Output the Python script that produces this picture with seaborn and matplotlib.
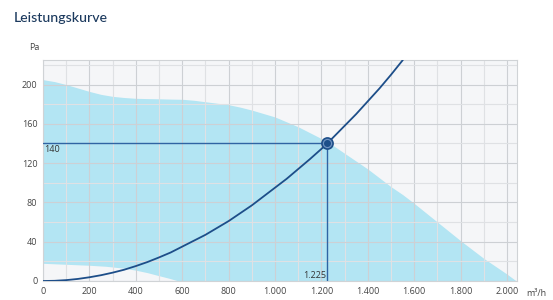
import matplotlib
matplotlib.use("Agg")
import matplotlib.pyplot as plt
import seaborn as sns
import pandas as pd
from matplotlib.ticker import MultipleLocator, FuncFormatter

# ---- data ----
fan_q_upper = [0, 50, 100, 150, 200, 250, 300, 350, 400, 450, 500, 550, 600, 650, 700, 750, 800,
               850, 900, 950, 1000, 1050, 1100, 1150, 1200, 1250, 1300, 1350, 1400, 1450, 1500,
               1550, 1600, 1700, 1800, 1900, 2000, 2040]
fan_p_upper = [205, 203, 200, 196.5, 193, 190, 188, 186.8, 186, 185.7, 185.5, 185.2, 185, 184,
               182.5, 181, 179.5, 177, 174, 170.5, 167, 162, 157, 151, 145, 138, 130, 122, 114,
               105, 96, 88, 79, 60, 41, 23, 7, 0]
fan_q_lower = [0, 100, 200, 270, 350, 400, 450, 490, 540, 585]
fan_p_lower = [18, 17, 16, 15, 13, 11, 8.5, 6, 3, 0]
sys_q = [0, 50, 100, 150, 200, 250, 300, 350, 400, 450, 500, 550, 600, 650, 700, 750, 800, 850,
         900, 950, 1000, 1050, 1100, 1150, 1200, 1225, 1250, 1300, 1350, 1400, 1450, 1500, 1551]
sys_p = [0, 0.2, 0.9, 2.1, 3.8, 5.9, 8.5, 11.5, 15.2, 19.3, 24, 29, 35, 41, 47, 54, 61, 69,
         77, 86, 95, 104, 114, 124, 134.5, 140, 146, 158, 170, 183, 196, 210, 225]
op_q = 1225
op_p = 140
x_ticks = [0, 200, 400, 600, 800, 1000, 1200, 1400, 1600, 1800, 2000]
y_ticks = [0, 40, 80, 120, 160, 200]
title = "Leistungskurve"
y_unit = "Pa"
x_unit = "m³/h"

sns.set_theme(style="white")
plt.rcParams['font.family'] = ['Open Sans', 'DejaVu Sans']

W, H = 553, 300
fig = plt.figure(figsize=(W / 100, H / 100), dpi=100)
ax = fig.add_axes([43 / W, 19 / H, 474 / W, 221 / H])

bg = "#f5f6f8"
fill_c = "#b3e5f3"
navy = "#1d4e89"
op_c = "#2f64a3"

ax.set_facecolor(bg)
ax.fill_between(fan_q_upper, fan_p_upper, 0, color=fill_c, lw=0, zorder=1)
ax.fill_between(fan_q_lower, fan_p_lower, 0, color=bg, lw=0, zorder=1.1)

df = pd.DataFrame({"q": sys_q, "p": sys_p})
sns.lineplot(data=df, x="q", y="p", ax=ax, color=navy, lw=1.3, zorder=4)

ax.plot([0, op_q], [op_p, op_p], color=op_c, lw=1.0, zorder=3)
ax.plot([op_q, op_q], [0, op_p], color=op_c, lw=1.0, zorder=3)
ax.plot([op_q], [op_p], marker="o", ms=8, mfc="#6f93c2", mec=navy, mew=1.2, zorder=5)
ax.plot([op_q], [op_p], marker="o", ms=4, mfc=navy, mec=navy, zorder=6)

ax.text(4, op_p - 1.5, f"{op_p}", ha="left", va="top", fontsize=6.5, color="#333333", zorder=6)
ax.text(op_q - 6, 1.0, f"{op_q:,}".replace(",", "."), ha="right", va="bottom",
        fontsize=6.5, color="#333333", zorder=6)

ax.set_xlim(0, 2043)
ax.set_ylim(0, 225)
ax.set_xticks(x_ticks)
ax.set_yticks(y_ticks)
ax.xaxis.set_minor_locator(MultipleLocator(100))
ax.yaxis.set_minor_locator(MultipleLocator(20))
ax.xaxis.set_major_formatter(FuncFormatter(lambda v, p: f"{int(v):,}".replace(",", ".")))
ax.set_axisbelow('line')
ax.grid(which="major", color="#cdd0d4", lw=0.8)
ax.grid(which="minor", color="#dfe1e4", lw=0.8)
ax.tick_params(which="both", length=0, labelsize=6.5, labelcolor="#444444", pad=4)
ax.set_xlabel("")
ax.set_ylabel("")
for s in ax.spines.values():
    s.set_color("#d0d3d6")
    s.set_linewidth(0.8)

fig.text(14 / W, 1 - 22 / H, title, fontsize=10.2, color="#1c3a5e", ha="left", va="baseline",
         family=["Lato", "DejaVu Sans"], weight="medium")
fig.text(40 / W, 1 - 47 / H, y_unit, fontsize=6.5, color="#444444", ha="right", va="center")
fig.text(526 / W, 1 - 293 / H, x_unit, fontsize=6.5, color="#444444", ha="left", va="center")

fig.savefig("out.png", dpi=100, facecolor="white")
